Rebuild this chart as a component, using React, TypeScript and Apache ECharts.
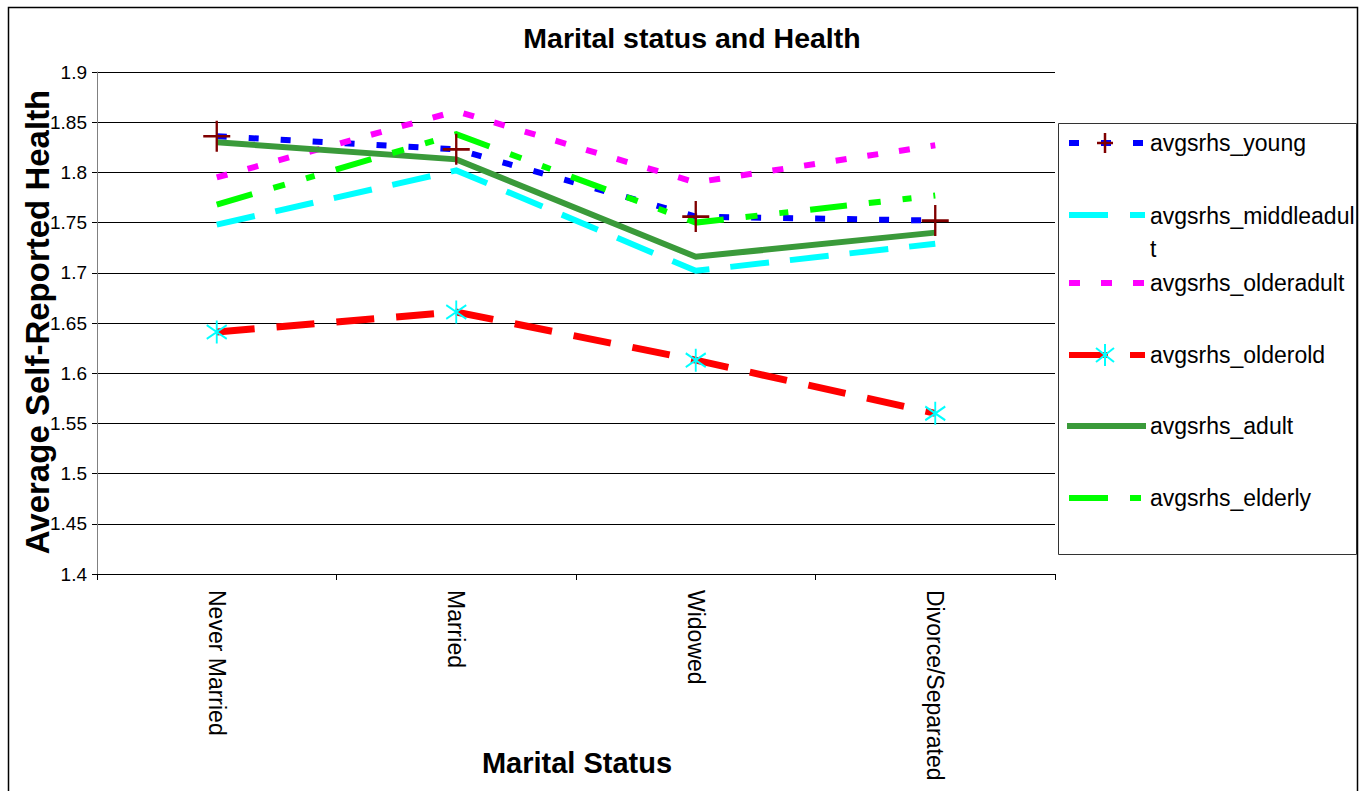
import React, { useEffect, useRef } from "react";
import * as echarts from "echarts";

const categories = ["Never Married", "Married", "Widowed", "Divorce/Separated"];
const seriesNames = [
  "avgsrhs_young",
  "avgsrhs_middleadult",
  "avgsrhs_olderadult",
  "avgsrhs_olderold",
  "avgsrhs_adult",
  "avgsrhs_elderly",
];
const young = [1.836, 1.823, 1.756, 1.752];
const middleadult = [1.748, 1.802, 1.702, 1.729];
const olderadult = [1.795, 1.861, 1.79, 1.827];
const olderold = [1.641, 1.661, 1.613, 1.56];
const adult = [1.83, 1.813, 1.716, 1.74];
const elderly = [1.768, 1.838, 1.75, 1.777];
const yMin = 1.4;
const yMax = 1.9;
const yStep = 0.05;

const FONT = "'Liberation Sans', Arial, sans-serif";

const PLUS = "path://M10,0L10,20M0,10L20,10";
const STAR = "path://M10,0L10,20M0,4L20,16M0,16L20,4";

export default function App() {
  const ref = useRef<HTMLDivElement>(null);
  useEffect(() => {
    if (!ref.current) return;
    const chart = echarts.init(ref.current, null, { renderer: "svg" });

    const line = (
      name: string,
      data: number[],
      color: string,
      width: number,
      type: any,
      z: number,
      symbol?: string,
      symbolSize?: number[],
      symColor?: string,
      symWidth?: number
    ) => ({
      name,
      type: "line",
      data,
      z,
      color,
      showSymbol: !!symbol,
      symbol: symbol || "none",
      symbolSize: symbolSize || 0,
      symbolKeepAspect: false,
      itemStyle: symbol
        ? { color: "transparent", borderColor: symColor, borderWidth: symWidth }
        : undefined,
      lineStyle: { color, width, type, cap: "butt", join: "miter" },
      emphasis: { disabled: true },
    });

    const legendY = [143, 215, 283, 355, 426, 498];
    const lx1 = 1069;
    const lx2 = 1145;
    const textX = 1150;

    const legendGraphics: any[] = [
      {
        type: "rect",
        shape: { x: 1058.5, y: 123.5, width: 298, height: 431 },
        style: { fill: "#fff", stroke: "#333", lineWidth: 1 },
        z: 10,
      },
      // young
      {
        type: "line",
        shape: { x1: lx1, y1: legendY[0], x2: lx2, y2: legendY[0] },
        style: { stroke: "#0000ff", lineWidth: 6, lineDash: [10, 22] },
        z: 11,
      },
      {
        type: "line",
        shape: { x1: 1105, y1: legendY[0] - 10, x2: 1105, y2: legendY[0] + 10 },
        style: { stroke: "#800000", lineWidth: 2.5 },
        z: 12,
      },
      {
        type: "line",
        shape: { x1: 1097, y1: legendY[0], x2: 1113, y2: legendY[0] },
        style: { stroke: "#800000", lineWidth: 2.5 },
        z: 12,
      },
      // middleadult
      {
        type: "line",
        shape: { x1: lx1, y1: legendY[1], x2: lx2, y2: legendY[1] },
        style: { stroke: "#00ffff", lineWidth: 6, lineDash: [39, 22] },
        z: 11,
      },
      // olderadult
      {
        type: "line",
        shape: { x1: lx1, y1: legendY[2], x2: lx2, y2: legendY[2] },
        style: { stroke: "#ff00ff", lineWidth: 6, lineDash: [11, 21] },
        z: 11,
      },
      // olderold
      {
        type: "line",
        shape: { x1: lx1, y1: legendY[3], x2: lx2, y2: legendY[3] },
        style: { stroke: "#ff0000", lineWidth: 6, lineDash: [39, 22] },
        z: 11,
      },
      {
        type: "line",
        shape: { x1: 1105, y1: legendY[3] - 11, x2: 1105, y2: legendY[3] + 11 },
        style: { stroke: "#00ffff", lineWidth: 2 },
        z: 12,
      },
      {
        type: "line",
        shape: { x1: 1096, y1: legendY[3] - 7, x2: 1114, y2: legendY[3] + 7 },
        style: { stroke: "#00ffff", lineWidth: 2 },
        z: 12,
      },
      {
        type: "line",
        shape: { x1: 1096, y1: legendY[3] + 7, x2: 1114, y2: legendY[3] - 7 },
        style: { stroke: "#00ffff", lineWidth: 2 },
        z: 12,
      },
      // adult
      {
        type: "line",
        shape: { x1: 1067, y1: legendY[4], x2: 1146, y2: legendY[4] },
        style: { stroke: "#3a9a3a", lineWidth: 6 },
        z: 11,
      },
      // elderly
      {
        type: "line",
        shape: { x1: lx1, y1: legendY[5], x2: 1141, y2: legendY[5] },
        style: { stroke: "#00ff00", lineWidth: 6, lineDash: [39, 22, 11, 22] },
        z: 11,
      },
    ];
    seriesNames.forEach((n, i) => {
      const isMid = i === 1;
      legendGraphics.push({
        type: "text",
        x: textX,
        y: isMid ? legendY[i] - 16 : legendY[i],
        z: 12,
        style: {
          text: isMid ? "avgsrhs_middleadul\nt" : n,
          fill: "#000",
          fontSize: 23,
          fontFamily: FONT,
          lineHeight: 33,
          verticalAlign: isMid ? "top" : "middle",
          align: "left",
        },
      });
    });

    chart.setOption({
      animation: false,
      backgroundColor: "#fff",
      title: {
        text: "Marital status and Health",
        left: 687,
        top: 18,
        textAlign: "center",
        textStyle: { fontFamily: FONT, fontSize: 28.5, fontWeight: "bold", color: "#000" },
      },
      grid: { left: 97, top: 72, width: 958, height: 502, containLabel: false },
      xAxis: {
        type: "category",
        data: categories,
        boundaryGap: true,
        axisLine: { show: true, lineStyle: { color: "#000", width: 1 } },
        axisTick: { show: true, interval: 0, length: 6, lineStyle: { color: "#000" } },
        axisLabel: {
          rotate: -90,
          interval: 0,
          margin: 16,
          fontFamily: FONT,
          fontSize: 23,
          color: "#000",
        },
        splitLine: { show: false },
      },
      yAxis: {
        type: "value",
        min: yMin,
        max: yMax,
        interval: yStep,
        axisLine: { show: true, lineStyle: { color: "#808080", width: 1 } },
        axisTick: { show: true, length: 5, lineStyle: { color: "#000" } },
        axisLabel: {
          margin: 10,
          fontFamily: FONT,
          fontSize: 19,
          color: "#000",
          formatter: (v: number) => String(parseFloat(v.toFixed(2))),
        },
        splitLine: { show: true, lineStyle: { color: "#000", width: 1 } },
      },
      series: [
        line(seriesNames[0], young, "#0000ff", 6, [10, 22], 2, PLUS, [27, 31], "#800000", 2.5),
        line(seriesNames[1], middleadult, "#00ffff", 6, [39, 21], 2),
        line(seriesNames[2], olderadult, "#ff00ff", 6, [11, 21], 2),
        line(seriesNames[3], olderold, "#ff0000", 7, [38, 22], 2, STAR, [20, 23], "#00ffff", 2),
        line(seriesNames[4], adult, "#3a9a3a", 6, "solid", 2),
        line(seriesNames[5], elderly, "#00ff00", 6, [37, 22, 12, 22, 9, 22], 2),
      ],
      graphic: [
        {
          type: "rect",
          shape: { x: 8.5, y: 7.5, width: 1349, height: 820 },
          style: { fill: "none", stroke: "#000", lineWidth: 1.5 },
          silent: true,
          z: 0,
        },
        {
          type: "text",
          x: 37,
          y: 322,
          rotation: Math.PI / 2,
          style: {
            text: "Average Self-Reported Health",
            fill: "#000",
            fontFamily: FONT,
            fontSize: 33,
            fontWeight: "bold",
            align: "center",
            verticalAlign: "middle",
          },
        },
        {
          type: "text",
          x: 577,
          y: 763,
          style: {
            text: "Marital Status",
            fill: "#000",
            fontFamily: FONT,
            fontSize: 29,
            fontWeight: "bold",
            align: "center",
            verticalAlign: "middle",
          },
        },
        ...legendGraphics,
      ],
    });
    return () => chart.dispose();
  }, []);
  return (
    <div
      ref={ref}
      style={{ position: "absolute", left: 0, top: 0, width: 1369, height: 791 }}
    />
  );
}
